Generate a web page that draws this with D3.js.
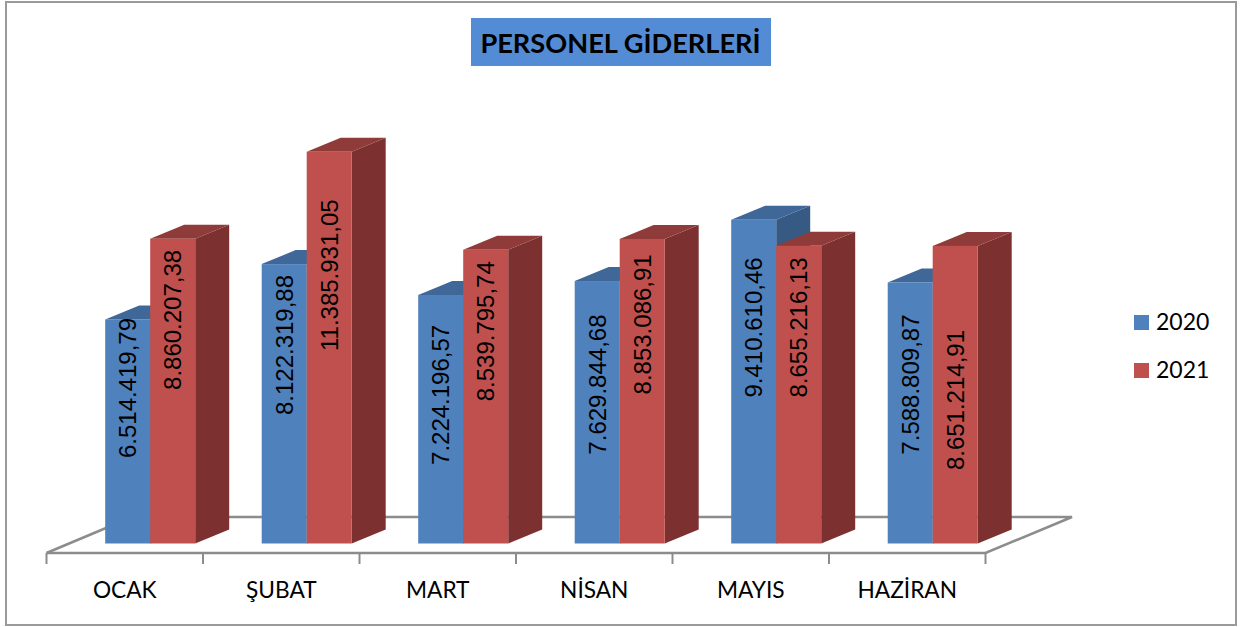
<!DOCTYPE html>
<html><head><meta charset="utf-8">
<script src="https://cdnjs.cloudflare.com/ajax/libs/d3/7.8.5/d3.min.js"></script>
<style>html,body{margin:0;padding:0;background:#fff}svg{display:block}</style></head>
<body><svg id="c" width="1241" height="627"></svg>
<script>
const categories = ["OCAK","ŞUBAT","MART","NİSAN","MAYIS","HAZİRAN"];
const seriesNames = ["2020","2021"];
const values2020 = [6514419.79,8122319.88,7224196.57,7629844.68,9410610.46,7588809.87];
const values2021 = [8860207.38,11385931.05,8539795.74,8853086.91,8655216.13,8651214.91];
const labels2020 = ["6.514.419,79","8.122.319,88","7.224.196,57","7.629.844,68","9.410.610,46","7.588.809,87"];
const labels2021 = ["8.860.207,38","11.385.931,05","8.539.795,74","8.853.086,91","8.655.216,13","8.651.214,91"];
// value level at which each rotated label is centred
const labelLevel2020 = [4.52e6,5.77e6,4.32e6,4.62e6,6.28e6,4.62e6];
const labelLevel2021 = [6.5e6,7.8e6,6.17e6,6.37e6,6.28e6,4.17e6];
const titleText = "PERSONEL GİDERLERİ";

const svg = d3.select("#c");
const colors = {
  2020:{front:"#4f81bd",top:"#3f6797",side:"#375a85"},
  2021:{front:"#c0504d",top:"#8f3b39",side:"#7c3130"}
};
const x = d3.scaleBand().domain(categories).range([46.5,985.5]);
const inner = d3.scaleBand().domain(seriesNames).range([0,90]);
const y = d3.scaleLinear().domain([0,12e6]).range([543.5,130.7]);
const dx=34, dy=14, gx=58.7;

svg.append("rect").attr("x",6).attr("y",2).attr("width",1230).attr("height",623)
  .attr("fill","#fff").attr("stroke","#9a9a9a").attr("stroke-width",2);

const tg=svg.append("g");
tg.append("rect").attr("x",471).attr("y",18).attr("width",300).attr("height",48).attr("fill","#538cd5");
tg.append("text").attr("x",620.5).attr("y",53).attr("text-anchor","middle")
  .attr("font-family","Lato, 'Open Sans', sans-serif").attr("font-weight",700).attr("font-size",27.2)
  .attr("fill","#000").text(titleText);

const floorColor="#8c8c8c";
svg.append("path").attr("fill","none").attr("stroke",floorColor).attr("stroke-width",2.5)
  .attr("d",d3.line()([[46.5,553],[106,528]]));
svg.append("path").attr("fill","none").attr("stroke",floorColor).attr("stroke-width",2.5)
  .attr("d",d3.line()([[46.5,553],[985.5,553],[1072,517],[228,517]]));
const ticks=[...categories.map(c=>x(c)),985.5];
svg.append("g").selectAll("line").data(ticks).join("line")
  .attr("x1",d=>d).attr("x2",d=>d).attr("y1",553).attr("y2",564)
  .attr("stroke",floorColor).attr("stroke-width",2);
svg.append("g").selectAll("text").data(categories).join("text")
  .attr("x",d=>x(d)+x.bandwidth()/2).attr("y",598).attr("text-anchor","middle")
  .attr("font-family","Lato, sans-serif").attr("font-size",22.7).attr("fill","#000").text(d=>d);

function bar3d(g,bx,w,v,c){
  const t=y(v),b=y(0);
  g.append("polygon").attr("fill",c.side)
    .attr("points",[[bx+w,t],[bx+w+dx,t-dy],[bx+w+dx,b-dy],[bx+w,b]].join(" "));
  g.append("polygon").attr("fill",c.top)
    .attr("points",[[bx,t],[bx+dx,t-dy],[bx+w+dx,t-dy],[bx+w,t]].join(" "));
  g.append("rect").attr("x",bx).attr("y",t).attr("width",w).attr("height",b-t).attr("fill",c.front);
}
const barsG=svg.append("g");
categories.forEach((c,i)=>{
  const x0=x(c)+gx;
  bar3d(barsG,x0+inner("2020"),inner.bandwidth(),values2020[i],colors[2020]);
  bar3d(barsG,x0+inner("2021"),inner.bandwidth(),values2021[i],colors[2021]);
});
function valueLabels(names,lab,lev,s){
  svg.append("g").selectAll("text").data(names).join("text")
    .attr("transform",(d,i)=>`translate(${x(d)+gx+inner(s)+inner.bandwidth()/2},${y(lev[i])}) rotate(-90)`)
    .attr("text-anchor","middle").attr("dominant-baseline","central")
    .attr("font-family","'Liberation Sans', Arial, sans-serif").attr("font-size",24).attr("fill","#000")
    .text((d,i)=>lab[i]);
}
valueLabels(categories,labels2020,labelLevel2020,"2020");
valueLabels(categories,labels2021,labelLevel2021,"2021");

const leg=d3.scaleBand().domain(seriesNames).range([298,394]);
const lg=svg.append("g").selectAll("g").data(seriesNames).join("g")
  .attr("transform",d=>`translate(1134,${leg(d)+17})`);
lg.append("rect").attr("width",15).attr("height",15).attr("fill",d=>colors[d].front);
lg.append("text").attr("x",22).attr("y",15).attr("font-family","Lato, sans-serif")
  .attr("font-size",23).attr("fill","#000").text(d=>d);
</script></body></html>
